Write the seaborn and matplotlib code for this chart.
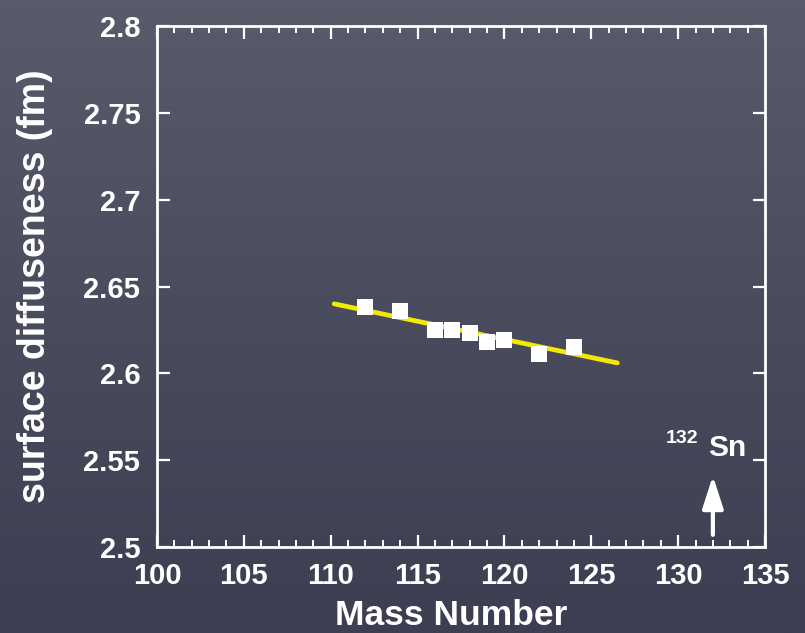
import numpy as np
import pandas as pd
import matplotlib
matplotlib.use("Agg")
import matplotlib.pyplot as plt
from matplotlib.colors import LinearSegmentedColormap
from matplotlib.ticker import MultipleLocator
import seaborn as sns

# Measured surface diffuseness of Sn isotopes
mass_number = [112, 114, 116, 117, 118, 119, 120, 122, 124]
diffuseness = [2.638, 2.636, 2.625, 2.625, 2.623, 2.618, 2.619, 2.611, 2.615]

# Linear systematics drawn through the isotope chain
fit_mass = [110.2, 126.5]
fit_diffuseness = [2.640, 2.606]

# Position of the doubly magic nucleus marked with an arrow
magic_mass = 132
arrow_span = [2.507, 2.541]

x_ticks = [100, 105, 110, 115, 120, 125, 130, 135]
y_ticks = [2.5, 2.55, 2.6, 2.65, 2.7, 2.75, 2.8]

sns.set_theme(style="ticks")
plt.rcParams["font.family"] = ["Liberation Sans", "DejaVu Sans"]
plt.rcParams["font.weight"] = "bold"

fg = "white"
fig = plt.figure(figsize=(8.05, 6.33), dpi=100)

# Slate-board backdrop: smooth vertical shading
bg_ax = fig.add_axes([0, 0, 1, 1], zorder=-10)
board = LinearSegmentedColormap.from_list("board", ["#3d3e51", "#4a4c5e", "#595b6b"])
grad = np.linspace(0, 1, 256).reshape(-1, 1)
bg_ax.imshow(grad, aspect="auto", cmap=board, origin="lower", extent=[0, 1, 0, 1])
bg_ax.set_axis_off()

ax = fig.add_axes([157 / 805, 1 - 547 / 633, (765 - 157) / 805, (547 - 26) / 633])
ax.patch.set_alpha(0)

pts = pd.DataFrame({"A": mass_number, "a": diffuseness})
fit = pd.DataFrame({"A": fit_mass, "a": fit_diffuseness})

sns.lineplot(data=fit, x="A", y="a", ax=ax, color="#f2ea00", linewidth=3.4, zorder=2)
sns.scatterplot(data=pts, x="A", y="a", ax=ax, marker="s", s=125, color="white",
                edgecolor="white", linewidth=0, zorder=3)

ax.set_xlim(100, 135)
ax.set_ylim(2.5, 2.8)
ax.set_xticks(x_ticks)
ax.set_yticks(y_ticks)
ax.set_xticklabels([f"{v:g}" for v in x_ticks])
ax.set_yticklabels([f"{v:g}" for v in y_ticks])
ax.xaxis.set_minor_locator(MultipleLocator(1))

for s in ax.spines.values():
    s.set_color(fg)
    s.set_linewidth(2)

ax.tick_params(axis="x", which="major", direction="in", length=9, width=1.6,
               top=True, bottom=True, colors=fg, labelsize=21, pad=11)
ax.tick_params(axis="x", which="minor", direction="in", length=5, width=1.4,
               top=True, bottom=True, colors=fg)
ax.tick_params(axis="y", which="major", direction="in", length=9, width=1.6,
               left=True, right=True, colors=fg, labelsize=21, pad=12)
for lbl in ax.get_xticklabels() + ax.get_yticklabels():
    lbl.set_fontweight("bold")
    lbl.set_color(fg)

ax.set_xlabel("Mass Number", fontsize=25.5, fontweight="bold", color=fg, va="center")
ax.xaxis.set_label_coords(0.4836, -0.132)
ax.set_ylabel("surface diffuseness (fm)", fontsize=27, fontweight="bold", color=fg, labelpad=22)

# 132Sn marker
ax.annotate("", xy=(magic_mass, arrow_span[1]), xytext=(magic_mass, arrow_span[0]),
            arrowprops=dict(arrowstyle="-|>,head_length=0.62,head_width=0.2",
                            mutation_scale=32, color=fg, lw=3,
                            shrinkA=0, shrinkB=0))
ax.text(131.15, 2.5599, "132", ha="right", va="baseline",
        fontsize=14, fontweight="bold", color=fg)
ax.text(132.8, 2.5524, "Sn", ha="center", va="baseline",
        fontsize=21.5, fontweight="bold", color=fg)

fig.savefig("out.png", dpi=100)
